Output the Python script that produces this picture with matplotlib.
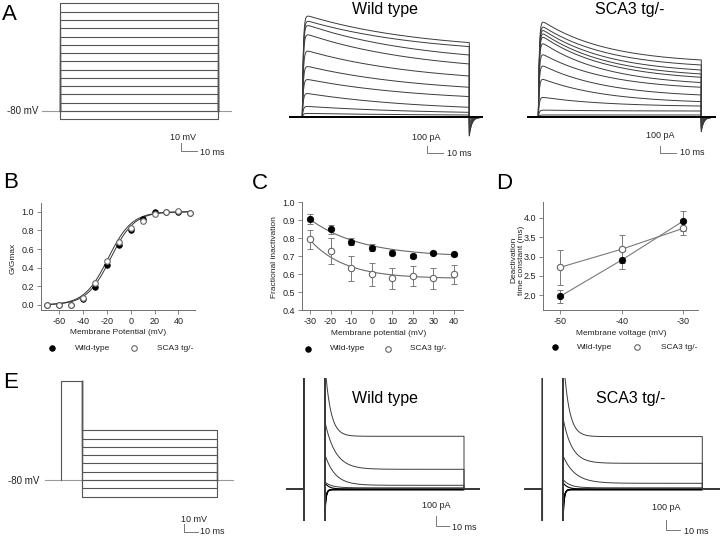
import numpy as np
import matplotlib
matplotlib.use("Agg")
import matplotlib.pyplot as plt

plt.rcParams['font.family'] = ['Liberation Sans', 'DejaVu Sans']
plt.rcParams['axes.unicode_minus'] = False

# ------------------------------------------------------------------ DATA
HOLD_MV = -80
A_STEPS_MV = [50, 40, 30, 20, 10, 0, -10, -20, -30, -40, -50, -60, -70, -80, -90]
A_STEP_MS = 100
# outward currents (pA) for each step, same order as A_STEPS_MV
A_WT_PEAK_PA = [1476, 1400, 1343, 1210, 972, 747, 557, 353, 161, 57, 0, 0, 0, 0, 0]
A_WT_END_PA = [1067, 1010, 890, 762, 590, 429, 296, 143, 71, 33, 0, 0, 0, 0, 0]
A_SCA_PEAK_PA = [1415, 1343, 1296, 1248, 1200, 1105, 939, 772, 572, 296, 104, 33, 0, 0, 0]
A_SCA_END_PA = [819, 747, 676, 619, 572, 496, 429, 319, 224, 161, 90, 33, 0, 0, 0]
A_WT_TAU_MS = 70
A_SCA_TAU_MS = 40
A_TAIL_FRAC = 0.25

B_V = [-70, -60, -50, -40, -30, -20, -10, 0, 10, 20, 30, 40, 50]
B_WT = [0.0, 0.0, 0.0, 0.06, 0.19, 0.43, 0.64, 0.80, 0.92, 1.00, 1.00, 1.00, 0.99]
B_SCA = [0.0, 0.0, 0.0, 0.08, 0.24, 0.47, 0.68, 0.82, 0.90, 0.97, 1.00, 1.01, 0.99]
B_WT_FIT = (-17.0, 10.0)    # V1/2, slope
B_SCA_FIT = (-19.0, 10.0)

C_V = [-30, -20, -10, 0, 10, 20, 30, 40]
C_WT = [0.905, 0.85, 0.78, 0.747, 0.72, 0.70, 0.72, 0.71]
C_WT_ERR = [0.028, 0.025, 0.02, 0.018, 0.015, 0.01, 0.008, 0.008]
C_SCA = [0.794, 0.729, 0.632, 0.599, 0.576, 0.591, 0.576, 0.599]
C_SCA_ERR = [0.053, 0.072, 0.07, 0.065, 0.06, 0.056, 0.06, 0.052]
C_WT_FIT = (0.695, 0.21, 25.0)   # offset, amplitude, tau(mV)
C_SCA_FIT = (0.575, 0.215, 17.0)

D_V = [-50, -40, -30]
D_WT = [1.97, 2.91, 3.92]
D_WT_ERR = [0.16, 0.23, 0.26]
D_SCA = [2.72, 3.19, 3.73]
D_SCA_ERR = [0.46, 0.36, 0.18]

E_PRE_MV = 40
E_PRE_MS = 15
E_TEST_MV = [-100, -90, -80, -70, -60, -50, -40, -30, -20]
E_TEST_MS = 100
E_WT_PLATEAU_PA = [-6, -3, 0, 0, 3, 15, 40, 200, 530]
E_WT_A0_PA = [-250, -220, -180, -120, 60, 57, 305, 473, 716]
E_WT_TAU_MS = [0.8, 0.8, 1.0, 1.2, 3.0, 5.0, 7.3, 7.5, 4.0]
E_SCA_PLATEAU_PA = [-6, -3, 0, 0, 3, 15, 60, 260, 527]
E_SCA_A0_PA = [-250, -220, -180, -120, 60, 80, 270, 440, 800]
E_SCA_TAU_MS = [0.8, 0.8, 1.0, 1.2, 3.0, 5.0, 8.5, 6.3, 4.0]
E_PRE_PA = 4000
E_SPIKE_PA = -2500

# ------------------------------------------------------------------ FIGURE
W, H = 720, 537
fig = plt.figure(figsize=(W / 100, H / 100), dpi=100)

TRACE_C = '#3c3c3c'
PROT_C = '#555555'
HOLD_C = '#9a9a9a'
SPINE_C = '#707070'


def px_axes(l, t, r, b):
    return fig.add_axes([l / W, 1 - b / H, (r - l) / W, (b - t) / H])


def trace_axes(box, x0_px, y0_px, ppx, ppy, y_val=0.0):
    l, t, r, b = box
    ax = px_axes(l, t, r, b)
    ax.set_xlim((l - x0_px) / ppx, (r - x0_px) / ppx)
    ax.set_ylim(y_val + (y0_px - b) / ppy, y_val + (y0_px - t) / ppy)
    ax.set_axis_off()
    ax.patch.set_alpha(0)
    return ax


def step_trace(peak, end, tau, t_pre, t_post):
    t1 = np.linspace(0, A_STEP_MS, 500)
    act = 1 - np.exp(-t1 / 0.6)
    shape = (np.exp(-t1 / tau) - np.exp(-A_STEP_MS / tau)) / (1 - np.exp(-A_STEP_MS / tau))
    i1 = act * (end + (peak - end) * shape)
    t2 = np.linspace(A_STEP_MS, t_post, 150)
    i2 = -A_TAIL_FRAC * end * np.exp(-(t2 - A_STEP_MS) / 1.5)
    t = np.concatenate([[t_pre], t1, t2])
    i = np.concatenate([[0], i1, i2])
    return t, i


def tail_trace(plateau, a0, tau, t_pre, t_post):
    t1 = np.linspace(0, E_TEST_MS, 500)
    i1 = plateau + a0 * np.exp(-t1 / tau)
    t = np.concatenate([[t_pre, -E_PRE_MS, -E_PRE_MS, -E_PRE_MS, 0, 0], t1,
                        [E_TEST_MS, t_post]])
    i = np.concatenate([[0, 0, E_SPIKE_PA, E_PRE_PA, E_PRE_PA, E_SPIKE_PA], i1, [0, 0]])
    return t, i


# ---------------- Panel A protocol
axP = trace_axes((30, 0, 240, 125), 60, 111, 1.58, 0.827, y_val=HOLD_MV)
axP.plot([-11.4, 108.2], [HOLD_MV, HOLD_MV], color=HOLD_C, lw=0.8)
for v in A_STEPS_MV:
    axP.plot([0, 0, A_STEP_MS, A_STEP_MS], [HOLD_MV, v, v, HOLD_MV], color=PROT_C, lw=0.8)

# ---------------- Panel A currents
for box, x0, ppx, peaks, ends, tau, tpre, tpost in [
        ((285, 0, 490, 145), 302.3, 1.67, A_WT_PEAK_PA, A_WT_END_PA, A_WT_TAU_MS, -7.4, 107.6),
        ((520, 0, 720, 145), 538.3, 1.63, A_SCA_PEAK_PA, A_SCA_END_PA, A_SCA_TAU_MS, -6.3, 108.7)]:
    ax = trace_axes(box, x0, 117.3, ppx, 0.07)
    for pk, en in zip(peaks, ends):
        t, i = step_trace(pk, en, tau, tpre, tpost)
        if pk == 0:
            ax.plot(t, i, color='black', lw=1.1)
        else:
            ax.plot(t, i, color=TRACE_C, lw=0.7)

# ---------------- Panel E protocol
axEP = trace_axes((30, 375, 240, 505), 81.7, 480, 1.35, 0.827, y_val=HOLD_MV)
axEP.plot([-27.1, 112], [HOLD_MV, HOLD_MV], color=HOLD_C, lw=0.8)
axEP.plot([-E_PRE_MS, -E_PRE_MS, 0], [HOLD_MV, E_PRE_MV, E_PRE_MV], color=PROT_C, lw=0.8)
for v in E_TEST_MV:
    axEP.plot([0, 0, E_TEST_MS, E_TEST_MS], [E_PRE_MV, v, v, HOLD_MV], color=PROT_C, lw=0.8)

# ---------------- Panel E currents
for box, x0, plats, a0s, taus, tpre, tpost in [
        ((280, 378, 490, 521), 325.0, E_WT_PLATEAU_PA, E_WT_A0_PA, E_WT_TAU_MS, -27.6, 111.0),
        ((520, 378, 720, 521), 563.3, E_SCA_PLATEAU_PA, E_SCA_A0_PA, E_SCA_TAU_MS, -27.6, 112.7)]:
    ax = trace_axes(box, x0, 489.3, 1.39, 0.1)
    for p, a, tau in zip(plats, a0s, taus):
        t, i = tail_trace(p, a, tau, tpre, tpost)
        col = 'black' if abs(p) < 10 else TRACE_C
        ax.plot(t, i, color=col, lw=0.8 if abs(p) < 10 else 0.7)


# ---------------- Panels B, C, D
def style_axes(ax):
    for s in ['top', 'right']:
        ax.spines[s].set_visible(False)
    for s in ['left', 'bottom']:
        ax.spines[s].set_color(SPINE_C)
        ax.spines[s].set_linewidth(0.7)
    ax.tick_params(direction='out', length=3, width=0.6, color=SPINE_C,
                   labelsize=6.5, labelcolor='#222222', pad=2)
    ax.patch.set_alpha(0)


open_kw = dict(marker='o', ls='none', mfc='white', mec='#666666', mew=0.8)
fill_kw = dict(marker='o', ls='none', mfc='black', mec='black', mew=0.6)

axB = px_axes(41, 203.3, 195, 310)
style_axes(axB)
axB.set_xlim(-75.4, 54)
axB.set_ylim(-0.054, 1.09)
vv = np.linspace(-70, 50, 200)
for (vh, k) in [B_WT_FIT, B_SCA_FIT]:
    axB.plot(vv, 1 / (1 + np.exp((vh - vv) / k)), color='#333333', lw=0.7)
axB.plot(B_V, B_WT, ms=4.0, **fill_kw)
axB.plot(B_V, B_SCA, ms=4.0, **open_kw)
axB.set_xticks([-60, -40, -20, 0, 20, 40])
axB.set_yticks([0.0, 0.2, 0.4, 0.6, 0.8, 1.0])
axB.set_yticklabels(['%.1f' % y for y in [0.0, 0.2, 0.4, 0.6, 0.8, 1.0]])

axC = px_axes(301.7, 201.7, 463.3, 310)
style_axes(axC)
axC.set_xlim(-34.0, 44.5)
axC.set_ylim(0.4, 1.003)
vv = np.linspace(-30, 40, 200)
for (c0, amp, tau) in [C_WT_FIT, C_SCA_FIT]:
    axC.plot(vv, c0 + amp * np.exp(-(vv + 30) / tau), color='#6a6a6a', lw=0.8)
axC.errorbar(C_V, C_SCA, yerr=C_SCA_ERR, fmt='none', ecolor='#7a7a7a', elinewidth=0.7, capsize=2, capthick=0.7)
axC.errorbar(C_V, C_WT, yerr=C_WT_ERR, fmt='none', ecolor='#7a7a7a', elinewidth=0.7, capsize=2, capthick=0.7)
axC.plot(C_V, C_SCA, ms=4.6, **open_kw)
axC.plot(C_V, C_WT, ms=4.6, **fill_kw)
axC.set_xticks(C_V)
axC.set_yticks([0.4, 0.5, 0.6, 0.7, 0.8, 0.9, 1.0])
axC.set_yticklabels(['%.1f' % y for y in [0.4, 0.5, 0.6, 0.7, 0.8, 0.9, 1.0]])

axD = px_axes(543.3, 202.3, 698.3, 310)
style_axes(axD)
axD.set_xlim(-52.7, -27.6)
axD.set_ylim(1.62, 4.40)
axD.plot(D_V, D_WT, color='#7a7a7a', lw=0.8)
axD.plot(D_V, D_SCA, color='#7a7a7a', lw=0.8)
axD.errorbar(D_V, D_SCA, yerr=D_SCA_ERR, fmt='none', ecolor='#7a7a7a', elinewidth=0.7, capsize=2, capthick=0.7)
axD.errorbar(D_V, D_WT, yerr=D_WT_ERR, fmt='none', ecolor='#7a7a7a', elinewidth=0.7, capsize=2, capthick=0.7)
axD.plot(D_V, D_SCA, ms=4.6, **open_kw)
axD.plot(D_V, D_WT, ms=4.6, **fill_kw)
axD.set_xticks(D_V)
axD.set_yticks([2.0, 2.5, 3.0, 3.5, 4.0])
axD.set_yticklabels(['%.1f' % y for y in [2.0, 2.5, 3.0, 3.5, 4.0]])

# ---------------- overlay (pixel coordinates) for labels & scale bars
ov = fig.add_axes([0, 0, 1, 1])
ov.set_xlim(0, W)
ov.set_ylim(H, 0)
ov.set_axis_off()
ov.patch.set_alpha(0)

for lab, x, y in [('A', 1.5, 15), ('B', 3, 182.5), ('C', 251.5, 183.3),
                  ('D', 496.5, 183.3), ('E', 3, 382.5)]:
    ov.text(x, y, lab, fontsize=16, ha='left', va='center', color='black')

for s, x, y in [('Wild type', 385, 9.5), ('SCA3 tg/-', 629.5, 9.5),
                ('Wild type', 384.7, 398), ('SCA3 tg/-', 631, 398)]:
    ov.text(x, y, s, fontsize=11.5, ha='center', va='center', color='black')

ov.text(7, 111, '-80 mV', fontsize=7, ha='left', va='center', color='#222222')
ov.text(8.3, 480.5, '-80 mV', fontsize=7, ha='left', va='center', color='#222222')


def scalebar(x, y_corner, vlen, hlen, top_txt, top_xy, bot_txt, bot_xy):
    ov.plot([x, x, x + hlen], [y_corner - vlen, y_corner, y_corner], color='#777777', lw=0.7)
    ov.text(top_xy[0], top_xy[1], top_txt, fontsize=6.5, ha='left', va='center', color='#222222')
    ov.text(bot_xy[0], bot_xy[1], bot_txt, fontsize=6.5, ha='left', va='center', color='#222222')


scalebar(181, 151, 10 * 0.827, 10 * 1.58, '10 mV', (170, 137), '10 ms', (200, 152.5))
scalebar(426.7, 153.3, 100 * 0.07, 10 * 1.67, '100 pA', (411.7, 137), '10 ms', (446.7, 154))
scalebar(660, 153, 100 * 0.07, 10 * 1.63, '100 pA', (645.7, 136), '10 ms', (680, 152.5))
scalebar(184, 532.3, 10 * 0.827, 10 * 1.35, '10 mV', (181, 520), '10 ms', (200.5, 531))
scalebar(435.5, 526, 100 * 0.1, 10 * 1.39, '100 pA', (421.6, 506), '10 ms', (451.6, 528))
scalebar(666, 530, 100 * 0.1, 10 * 1.39, '100 pA', (652, 507), '10 ms', (684, 532))

# axis labels
ov.text(118, 333, 'Membrane Potential (mV)', fontsize=6, ha='center', va='center', color='#222222')
ov.text(13, 258, 'G/Gmax', fontsize=6, ha='center', va='center', rotation=90, color='#222222')
ov.text(378.3, 333.3, 'Membrane potential (mV)', fontsize=6, ha='center', va='center', color='#222222')
ov.text(275, 256.7, 'Fractional inactivation', fontsize=6, ha='center', va='center', rotation=90, color='#222222')
ov.text(621.7, 333.3, 'Membrane voltage (mV)', fontsize=6, ha='center', va='center', color='#222222')
ov.text(517.5, 260, 'Deactivation\ntime constant (ms)', fontsize=6, ha='center', va='center',
        rotation=90, linespacing=1.15, color='#222222')

# legends
for xf, xt1, xo, xt2, y in [(51.7, 75, 134.3, 156.7, 348.3),
                            (308.3, 330, 388.3, 410, 349),
                            (555, 577, 636.7, 660.7, 347.3)]:
    ov.plot([xf], [y], ms=4.0, **fill_kw)
    ov.plot([xo], [y], ms=4.0, **open_kw)
    ov.text(xt1, y, 'Wild-type', fontsize=6, ha='left', va='center', color='#222222')
    ov.text(xt2, y, 'SCA3 tg/-', fontsize=6, ha='left', va='center', color='#222222')

fig.savefig('out.png', dpi=100)
